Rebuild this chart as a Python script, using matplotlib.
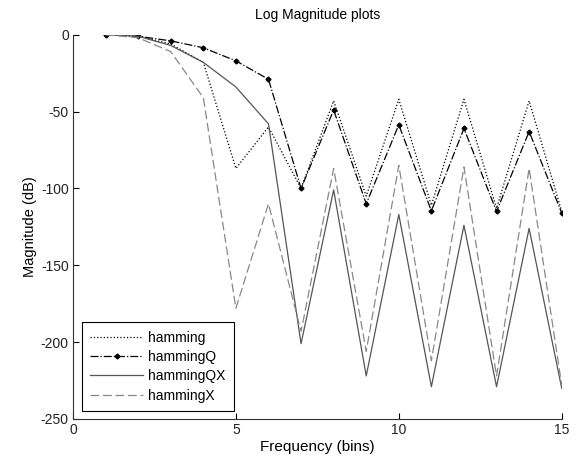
import numpy as np
import matplotlib
matplotlib.use('Agg')
import matplotlib.pyplot as plt

plt.rcParams['font.family'] = ['Liberation Sans', 'DejaVu Sans']
plt.rcParams['font.size'] = 10
plt.rcParams['axes.unicode_minus'] = False

# magnitude (dB) per frequency bin
bins = np.arange(1, 16)
hamming = [0, -1, -6, -18, -87, -60, -100, -43, -105, -42, -111, -42, -113, -43, -115]
hammingQ = [0, -1, -4, -8.5, -17, -29, -100, -49, -110, -58.6, -114.6, -61, -115, -63, -116]
hammingQX = [0, -1, -7, -18, -34, -58, -201, -101, -222, -117, -229, -124, -229, -126, -230]
hammingX = [0, -2, -11, -41, -178, -110, -193, -87, -206, -85, -212, -86, -222, -87, -228]

fig = plt.figure(figsize=(5.78, 4.58), dpi=100)
ax = fig.add_axes([0.1263, 0.0852, 0.8455, 0.839])

ax.plot(bins, hamming, linestyle=':', color='black', lw=0.9, label='hamming')
ax.plot(bins, hammingQ, linestyle='-.', color='black', lw=0.9, marker='D',
        markersize=2.5, label='hammingQ')
ax.plot(bins, hammingQX, linestyle='-', color='#555555', lw=0.9, label='hammingQX')
ax.plot(bins, hammingX, linestyle=(0, (7, 3)), color='#888888', lw=0.9, label='hammingX')

ax.set_xlim(0, 15)
ax.set_ylim(-250, 0)
ax.set_xticks([0, 5, 10, 15])
ax.set_yticks([-250, -200, -150, -100, -50, 0])
ax.tick_params(direction='in', length=4, width=0.8, pad=3, labelsize=10,
               labelcolor='#222222')
ax.spines['top'].set_visible(False)
ax.spines['right'].set_visible(False)
for s in ('left', 'bottom'):
    ax.spines[s].set_linewidth(0.8)
    ax.spines[s].set_color('#333333')

ax.set_title('Log Magnitude plots', fontsize=10, pad=11)
ax.set_xlabel('Frequency (bins)', fontsize=11, labelpad=2)
ax.set_ylabel('Magnitude (dB)', fontsize=10.5, labelpad=3)

leg = ax.legend(loc='lower left', bbox_to_anchor=(0.018, 0.021), borderaxespad=0,
                fontsize=10, fancybox=False, edgecolor='black', handlelength=3.8,
                handletextpad=0.4, borderpad=0.6, labelspacing=0.38, framealpha=1)
leg.get_frame().set_linewidth(0.8)

fig.savefig('out.png', dpi=100)
